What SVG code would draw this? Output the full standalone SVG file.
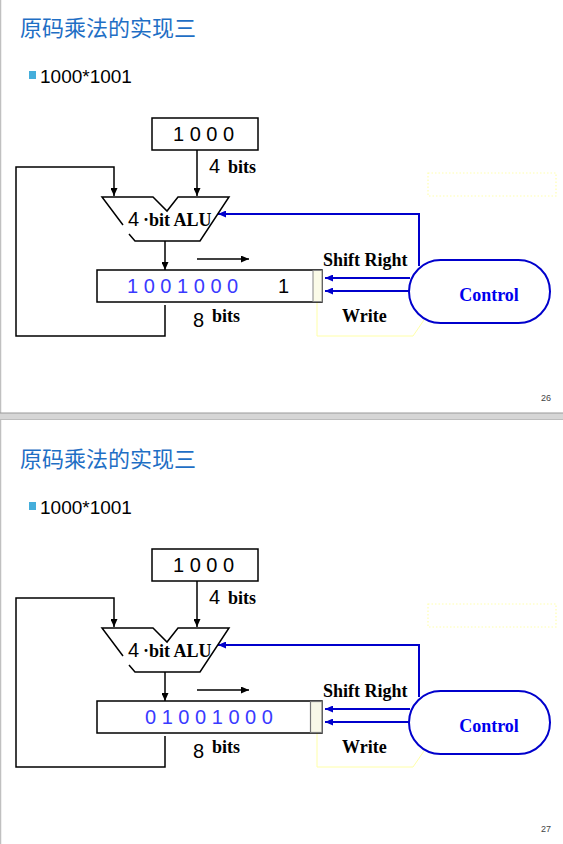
<svg xmlns="http://www.w3.org/2000/svg" width="563" height="844" viewBox="0 0 563 844">
<defs>
<style>
.title{font-family:"Noto Sans CJK SC","Noto Sans",sans-serif;font-size:22px;fill:#1f6fc5}
.bul{font-family:"Liberation Sans",Arial,sans-serif;font-size:19px;fill:#000}
.num{font-family:"Liberation Sans",Arial,sans-serif;font-size:20px;fill:#000}
.bits{font-family:"Liberation Sans",Arial,sans-serif;font-size:20px;fill:#3a3aff}
.lbl{font-family:"Liberation Serif","Times New Roman",serif;font-size:18px;font-weight:bold;fill:#000}
.ctl{font-family:"Liberation Serif","Times New Roman",serif;font-size:18px;font-weight:bold;fill:#0000ee}
.pg{font-family:"Liberation Sans",Arial,sans-serif;font-size:9px;fill:#444}
.k{fill:none;stroke:#000;stroke-width:1.5}
.b{fill:none;stroke:#0000cc;stroke-width:2}
.y{fill:none;stroke:#ffffa8;stroke-width:1}
.ka{marker-end:url(#ah)}
.ba{marker-end:url(#bh)}
</style>
<marker id="ah" markerUnits="userSpaceOnUse" markerWidth="8" markerHeight="7" refX="8" refY="3.5" orient="auto"><path d="M0,0 L8,3.5 L0,7 z" fill="#000"/></marker>
<marker id="bh" markerUnits="userSpaceOnUse" markerWidth="8" markerHeight="7" refX="8" refY="3.5" orient="auto"><path d="M0,0 L8,3.5 L0,7 z" fill="#0000cc"/></marker>
</defs>
<rect width="563" height="844" fill="#fff"/>
<line x1="0.5" y1="0" x2="0.5" y2="844" stroke="#c0c0c0" stroke-width="1.5"/>
<rect x="0" y="413" width="563" height="6" fill="#d6d6d6"/>
<line x1="0" y1="413" x2="563" y2="413" stroke="#9a9a9a" stroke-width="1.2"/>
<line x1="0" y1="419.5" x2="563" y2="419.5" stroke="#bdbdbd" stroke-width="1"/>

<!-- Slide 26 -->
<g id="slide26">
<text id="s1-title" class="title" x="20" y="36">原码乘法的实现三</text>
<g id="s1-bullet"><rect x="29" y="71" width="7" height="8" fill="#45aedb"/><text class="bul" x="40" y="83">1000*1001</text></g>
<g id="s1-connectors">
<line class="k ka" x1="197" y1="150" x2="197" y2="196"/>
<polyline class="k ka" points="165,305 165,336 16,336 16,167 114,167 114,196"/>
<line class="k ka" x1="165" y1="241" x2="165" y2="270"/>
<line class="k ka" x1="197" y1="259" x2="249" y2="259"/>
<polyline class="b ba" points="419,266 419,214 218,214"/>
<line class="b ba" x1="410" y1="278" x2="325" y2="278"/>
<line class="b ba" x1="410" y1="291" x2="325" y2="291"/>
<polyline class="y" points="317,302 317,336 413,336 424,320"/>
</g>
<g id="s1-multiplicand"><rect class="k" x="152" y="118" width="106" height="32" fill="#fff"/><text class="num" x="173" y="141">1 0 0 0</text></g>
<g id="s1-4bits"><text class="num" x="209" y="173">4</text><text class="lbl" x="228" y="173">bits</text></g>
<g id="s1-alu">
<polyline class="k" points="123,225 102,197 153,197 167,211 178,197 229,197 200,241 135,241 129,234"/>
<text class="num" x="128" y="226">4</text><text class="lbl" x="143" y="226">·bit ALU</text>
</g>
<g id="s1-register">
<rect class="k" x="97" y="270" width="225" height="32" fill="#fff"/>
<rect x="313" y="270.5" width="9" height="31" fill="#fbfbe8" stroke="#888" stroke-width="1"/>
<text class="bits" x="127" y="293">1 0 0 1 0 0 0</text>
<text class="num" x="278" y="293">1</text>
</g>
<g id="s1-8bits"><text class="num" x="193" y="327">8</text><text class="lbl" x="212" y="322">bits</text></g>
<text id="s1-shift" class="lbl" x="323" y="266">Shift Right</text>
<text id="s1-write" class="lbl" x="342" y="322">Write</text>
<g id="s1-control"><rect class="b" x="409" y="260" width="141" height="63" rx="31.5" fill="#fff"/><text class="ctl" x="489" y="301" text-anchor="middle">Control</text></g>
<rect id="s1-placeholder" x="428" y="173" width="128" height="23" fill="none" stroke="#ffffb0" stroke-width="1.2" stroke-dasharray="1.5 2"/>
<text id="s1-page" class="pg" x="541" y="401">26</text>
</g>

<!-- Slide 27 -->
<g id="slide27" transform="translate(0,431)">
<text id="s2-title" class="title" x="20" y="36">原码乘法的实现三</text>
<g id="s2-bullet"><rect x="29" y="71" width="7" height="8" fill="#45aedb"/><text class="bul" x="40" y="83">1000*1001</text></g>
<g id="s2-connectors">
<line class="k ka" x1="197" y1="150" x2="197" y2="196"/>
<polyline class="k ka" points="165,305 165,336 16,336 16,167 114,167 114,196"/>
<line class="k ka" x1="165" y1="241" x2="165" y2="270"/>
<line class="k ka" x1="197" y1="259" x2="249" y2="259"/>
<polyline class="b ba" points="419,266 419,214 218,214"/>
<line class="b ba" x1="410" y1="278" x2="325" y2="278"/>
<line class="b ba" x1="410" y1="291" x2="325" y2="291"/>
<polyline class="y" points="317,302 317,336 413,336 424,320"/>
</g>
<g id="s2-multiplicand"><rect class="k" x="152" y="118" width="106" height="32" fill="#fff"/><text class="num" x="173" y="141">1 0 0 0</text></g>
<g id="s2-4bits"><text class="num" x="209" y="173">4</text><text class="lbl" x="228" y="173">bits</text></g>
<g id="s2-alu">
<polyline class="k" points="123,225 102,197 153,197 167,211 178,197 229,197 200,241 135,241 129,234"/>
<text class="num" x="128" y="226">4</text><text class="lbl" x="143" y="226">·bit ALU</text>
</g>
<g id="s2-register">
<rect class="k" x="97" y="270" width="225" height="32" fill="#fff"/>
<rect x="310.5" y="270.5" width="11.5" height="31" fill="#f8f8e8" stroke="#777" stroke-width="1.2"/>
<text class="bits" x="145" y="293">0 1 0 0 1 0 0 0</text>
</g>
<g id="s2-8bits"><text class="num" x="193" y="327">8</text><text class="lbl" x="212" y="322">bits</text></g>
<text id="s2-shift" class="lbl" x="323" y="266">Shift Right</text>
<text id="s2-write" class="lbl" x="342" y="322">Write</text>
<g id="s2-control"><rect class="b" x="409" y="260" width="141" height="63" rx="31.5" fill="#fff"/><text class="ctl" x="489" y="301" text-anchor="middle">Control</text></g>
<rect id="s2-placeholder" x="428" y="173" width="128" height="23" fill="none" stroke="#ffffb0" stroke-width="1.2" stroke-dasharray="1.5 2"/>
<text id="s2-page" class="pg" x="541" y="401">27</text>
</g>
</svg>
